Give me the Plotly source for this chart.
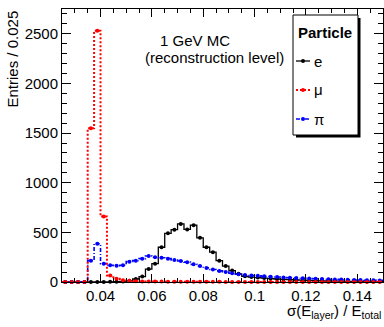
import numpy as np
import plotly.graph_objects as go

# ---------------- data (histogram contents, bin width 0.0025 from 0.025) -------------
bin_low = 0.025
bin_width = 0.0025
n_bins = 50

e_counts = [0, 0, 0, 0, 0, 0, 0, 2, 3, 5,
            12, 30, 55, 130, 185, 350, 490, 527, 585, 530,
            572, 445, 350, 300, 215, 160, 115, 82, 58, 50,
            45, 40, 35, 30, 26, 23, 20, 18, 15, 13,
            12, 10, 9, 8, 7, 6, 5, 5, 4, 4]

mu_counts = [0, 0, 0, 0, 1550, 2530, 660, 65, 32, 18,
             12, 8, 6, 5, 4, 4, 3, 3, 3, 2,
             2, 2, 2, 2, 2, 1, 1, 1, 1, 1,
             1, 1, 1, 1, 1, 1, 1, 1, 1, 1,
             1, 1, 1, 1, 1, 1, 1, 1, 1, 1]

pi_counts = [0, 0, 0, 0, 215, 385, 185, 168, 163, 168,
             205, 215, 235, 262, 250, 245, 235, 222, 212, 200,
             178, 160, 142, 126, 112, 100, 88, 78, 70, 65,
             62, 57, 54, 50, 46, 43, 40, 38, 35, 32,
             30, 28, 26, 24, 22, 20, 19, 18, 17, 16]

x_ticks = [0.04, 0.06, 0.08, 0.1, 0.12, 0.14]
x_tick_labels = ["0.04", "0.06", "0.08", "0.1", "0.12", "0.14"]
y_ticks = [0, 500, 1000, 1500, 2000, 2500]
y_tick_labels = ["0", "500", "1000", "1500", "2000", "2500"]

legend_labels = ["e", "\u03bc", "\u03c0"]

# ---------------- layout geometry ----------------
W, H = 384, 327
L, R, T, B = 62, 1, 9, 45
PW, PH = W - L - R, H - T - B


def px(x):
    return (x - L) / PW


def py(y):
    return (H - B - y) / PH


edges = bin_low + bin_width * np.arange(n_bins + 1)
centers = bin_low + bin_width * (np.arange(n_bins) + 0.5)

FONT = "Liberation Sans, Arial, Helvetica, sans-serif"

series = [
    (e_counts, "black", "solid", 1.3),
    (pi_counts, "#0000ff", "4px,2px,1px,2px", 1.6),
    (mu_counts, "#ff0000", "2px,2px", 2),
]

fig = go.Figure()
for counts, col, dash, lw in series:
    fig.add_trace(go.Scatter(
        x=edges, y=list(counts) + [counts[-1]], mode="lines",
        line=dict(color=col, width=lw, dash=dash, shape="hv"),
        showlegend=False, hoverinfo="skip"))
    fig.add_trace(go.Scatter(
        x=centers, y=counts, mode="markers",
        marker=dict(color=col, size=4, symbol="circle"),
        cliponaxis=False, showlegend=False))

fig.update_layout(
    width=W, height=H,
    margin=dict(l=L, r=R, t=T, b=B, pad=0),
    paper_bgcolor="white", plot_bgcolor="white",
    font=dict(family=FONT, size=15, color="black"),
    showlegend=False,
)

fig.update_xaxes(
    range=[bin_low, bin_low + n_bins * bin_width],
    tickvals=x_ticks, ticktext=x_tick_labels,
    ticks="inside", ticklen=8, tickwidth=1, tickcolor="black",
    minor=dict(dtick=0.005, ticks="inside", ticklen=4, tickcolor="black", tickwidth=1),
    showline=True, linecolor="black", linewidth=1, mirror="allticks",
    showgrid=False, zeroline=False,
    tickfont=dict(size=15),
)
fig.update_yaxes(
    range=[0, 2750],
    tickvals=y_ticks, ticktext=y_tick_labels,
    ticks="inside", ticklen=9, tickwidth=1, tickcolor="black",
    minor=dict(dtick=100, ticks="inside", ticklen=5, tickcolor="black", tickwidth=1),
    showline=True, linecolor="black", linewidth=1, mirror="allticks",
    showgrid=False, zeroline=False,
    tickfont=dict(size=15),
)

shapes = []
annotations = []

# legend box with shadow
shapes.append(dict(type="rect", xref="paper", yref="paper",
                   x0=px(296), x1=px(360.5), y0=py(137.5), y1=py(18),
                   fillcolor="black", line=dict(width=0)))
shapes.append(dict(type="rect", xref="paper", yref="paper",
                   x0=px(293), x1=px(358), y0=py(135), y1=py(15),
                   fillcolor="white", line=dict(color="black", width=1)))
annotations.append(dict(text="<b>Particle</b>", xref="paper", yref="paper",
                        x=px(296), y=py(32), xanchor="left", yanchor="middle",
                        showarrow=False, font=dict(size=15)))
leg_y = [61, 90, 119]
for (counts, col, dash, lw), lab, yy in zip([series[0], series[2], series[1]],
                                             legend_labels, leg_y):
    shapes.append(dict(type="line", xref="paper", yref="paper",
                       x0=px(296), x1=px(310), y0=py(yy), y1=py(yy),
                       line=dict(color=col, width=lw, dash=dash)))
    shapes.append(dict(type="circle", xref="paper", yref="paper",
                       x0=px(301), x1=px(305), y0=py(yy + 2), y1=py(yy - 2),
                       fillcolor=col, line=dict(width=0)))
    annotations.append(dict(text=lab, xref="paper", yref="paper",
                            x=px(312), y=py(yy), xanchor="left", yanchor="middle",
                            showarrow=False, font=dict(size=15)))

annotations.append(dict(text="1 GeV MC", xref="paper", yref="paper",
                        x=px(195), y=py(40), xanchor="center", yanchor="middle",
                        showarrow=False, font=dict(size=15)))
annotations.append(dict(text="(reconstruction level)", xref="paper", yref="paper",
                        x=px(214), y=py(57), xanchor="center", yanchor="middle",
                        showarrow=False, font=dict(size=15)))

annotations.append(dict(text="Entries / 0.025", xref="paper", yref="paper",
                        x=px(12), y=py(9), xanchor="center", yanchor="top",
                        textangle=-90, showarrow=False, font=dict(size=15)))
annotations.append(dict(text="\u03c3(E<sub>layer</sub>) / E<sub>total</sub>",
                        xref="paper", yref="paper",
                        x=px(383), y=py(300), xanchor="right", yanchor="top",
                        showarrow=False, font=dict(size=15)))

fig.update_layout(shapes=shapes, annotations=annotations)
fig.write_html("out.html")
